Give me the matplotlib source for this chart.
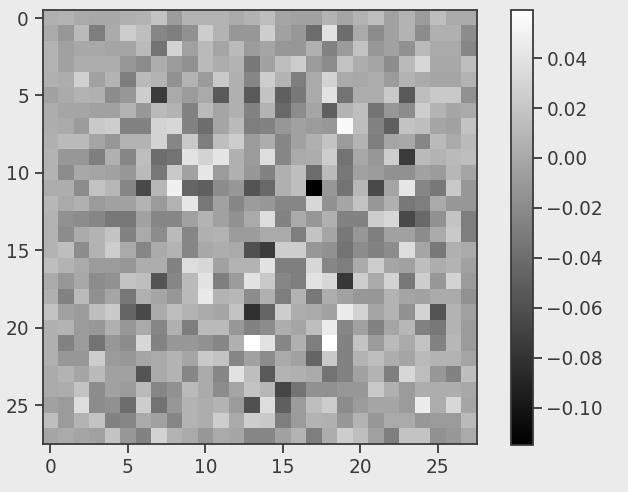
import numpy as np
import matplotlib
matplotlib.use("Agg")
import matplotlib.pyplot as plt

# Pixel values, in thousandths
row00 = [5,8,1,0,0,5,7,18,-9,7,7,7,1,8,15,-2,-5,-5,7,-2,7,15,-5,8,-9,15,1,1]
row01 = [1,-12,12,-29,1,25,15,-23,-29,-16,25,8,-12,-12,25,-5,-12,-40,39,-40,1,-19,-5,8,-19,5,5,-19]
row02 = [7,-5,0,0,-2,-2,12,-36,29,-5,12,-2,12,-9,-2,-12,-12,5,-26,-9,18,-12,-5,-16,12,1,1,-23]
row03 = [8,-5,3,3,3,-12,-19,3,-9,-16,12,3,8,-33,-5,15,25,-9,-19,18,3,-2,-19,12,32,0,0,15]
row04 = [5,3,27,-5,7,-29,12,8,-16,8,-9,22,5,-23,25,8,-29,1,29,1,0,3,-9,7,1,-2,-2,8]
row05 = [-5,1,8,5,-19,-12,25,-74,1,-9,1,-53,5,-53,18,-50,-33,1,39,-36,3,3,22,-53,15,22,22,-16]
row06 = [3,-2,-2,-5,-5,7,-12,12,7,-26,12,-2,5,-26,8,-43,-19,-2,-50,8,15,-36,-12,-19,25,7,-2,1]
row07 = [3,1,-9,22,25,-26,-26,29,32,-26,-40,-2,12,-29,-26,-12,-5,-9,-12,55,15,-26,-50,18,15,-2,-5,18]
row08 = [5,12,12,-2,-12,7,7,29,-23,22,-29,15,25,-9,3,-23,-5,5,18,-9,7,-29,-2,0,-23,12,1,12]
row09 = [7,-12,-12,-29,5,-23,15,-40,-36,39,30,41,5,-9,36,-23,1,3,25,-36,0,-12,25,-74,12,7,12,15]
row10 = [7,-19,0,-2,-5,-12,12,-33,22,-5,42,-9,5,-12,-26,5,15,-40,12,-33,-5,-9,-16,-16,-5,-9,10,-2]
row11 = [3,3,-19,18,10,-23,-64,10,49,-46,-50,-19,-12,-57,-43,5,15,-115,-12,-36,10,-64,-2,42,-23,-33,22,-12]
row12 = [10,1,5,-9,-5,-5,7,-9,7,42,-33,-5,-23,-9,-12,-23,-23,32,-16,-2,18,-12,5,-33,-29,1,-12,-12]
row13 = [7,-16,-19,-23,-33,-33,-5,-23,-23,-5,8,-5,-16,1,36,-26,1,-12,5,-26,-26,25,32,-64,-43,-16,18,-29]
row14 = [8,-19,1,7,18,-26,1,-19,12,-23,5,8,-9,-9,1,1,-29,18,-2,-33,-12,-29,-5,-5,-19,1,22,-29]
row15 = [8,15,-19,8,25,1,-23,1,7,-23,0,3,1,-60,-74,25,25,-12,-16,-36,-19,-26,-19,36,-2,-33,5,1]
row16 = [15,8,1,-9,-9,-12,3,3,-26,36,32,-5,7,7,39,-29,-29,32,-23,-29,1,25,-2,-5,15,3,7,-5]
row17 = [1,-12,0,-19,-16,18,15,-57,-23,12,39,-29,-9,39,22,-23,-29,39,32,-77,25,1,29,-33,25,-12,29,-9]
row18 = [5,-26,12,-16,-2,-33,5,-2,-12,12,44,7,10,-19,5,-29,7,-33,3,-5,-12,-12,7,-2,-5,1,1,-16]
row19 = [18,-5,-9,15,22,-46,-64,1,15,8,1,-2,18,-81,-46,25,3,1,-5,46,29,-2,7,-16,29,-57,7,-5]
row20 = [5,8,-9,-12,5,-12,1,-23,5,-29,12,12,-12,-26,-19,3,-2,15,46,-23,-5,-26,-2,10,-26,-33,7,-9]
row21 = [5,-26,-9,-36,-12,-19,32,-26,-12,-12,-16,-23,5,59,39,-23,5,-29,59,-26,18,-9,12,1,18,-26,10,-9]
row22 = [5,-12,-12,25,-9,-12,-2,1,7,-2,22,18,-23,-5,-19,1,-5,-46,22,-26,8,15,3,-2,12,7,7,-2]
row23 = [1,8,-2,12,-5,-5,-57,1,7,-23,1,-23,39,15,-53,7,5,1,-36,-26,-5,8,-29,32,15,-12,-26,15]
row24 = [1,3,18,-19,-5,-9,12,-23,-16,12,1,-19,-2,18,10,-67,-36,-16,-16,-12,-12,22,5,-9,3,3,3,0]
row25 = [-5,-9,36,-19,-16,-40,25,-36,-12,7,3,7,-9,-60,36,-50,-9,15,25,-19,-9,-2,-2,-9,46,3,32,-2]
row26 = [15,-9,7,18,-26,-23,1,-5,-23,8,3,25,1,25,22,-29,-9,8,5,-12,7,-12,1,1,-12,-9,-9,12]
row27 = [-2,1,-2,-5,18,-12,-26,29,8,1,-12,1,-2,-23,-23,-5,7,-29,3,25,15,-5,-29,18,18,-16,-12,1]
rows = [row00,row01,row02,row03,row04,row05,row06,row07,row08,row09,row10,row11,row12,row13,
        row14,row15,row16,row17,row18,row19,row20,row21,row22,row23,row24,row25,row26,row27]
axis_ticks = [0, 5, 10, 15, 20, 25]
colorbar_ticks = [-0.10, -0.08, -0.06, -0.04, -0.02, 0.00, 0.02, 0.04]

W, H = 628, 492
BG = "#ebebeb"
INK = "#3a3a3a"
TICKS = dict(labelsize=18.5, length=8.5, width=1.8, color=INK, labelcolor=INK, pad=5)
data = np.array(rows) / 1000.0

fig = plt.figure(figsize=(W / 72, H / 72), dpi=72, facecolor=BG)
ax = fig.add_axes([42.5 / W, 1 - 444.5 / H, 434 / W, 434.5 / H])
im = ax.imshow(data, cmap="gray", aspect="equal", interpolation="nearest",
               vmin=-0.1148, vmax=0.0593)
ax.set_xticks(axis_ticks)
ax.set_yticks(axis_ticks)
ax.tick_params(**TICKS)
for s in ax.spines.values():
    s.set_linewidth(1.8)
    s.set_color(INK)

cax = fig.add_axes([510.5 / W, 1 - 444.5 / H, 22.5 / W, 434.5 / H])
cb = fig.colorbar(im, cax=cax)
cb.set_ticks(colorbar_ticks)
cb.ax.tick_params(**TICKS)
cb.outline.set_linewidth(1.8)
cb.outline.set_edgecolor(INK)

fig.savefig("out.png", dpi=72, facecolor=BG)
